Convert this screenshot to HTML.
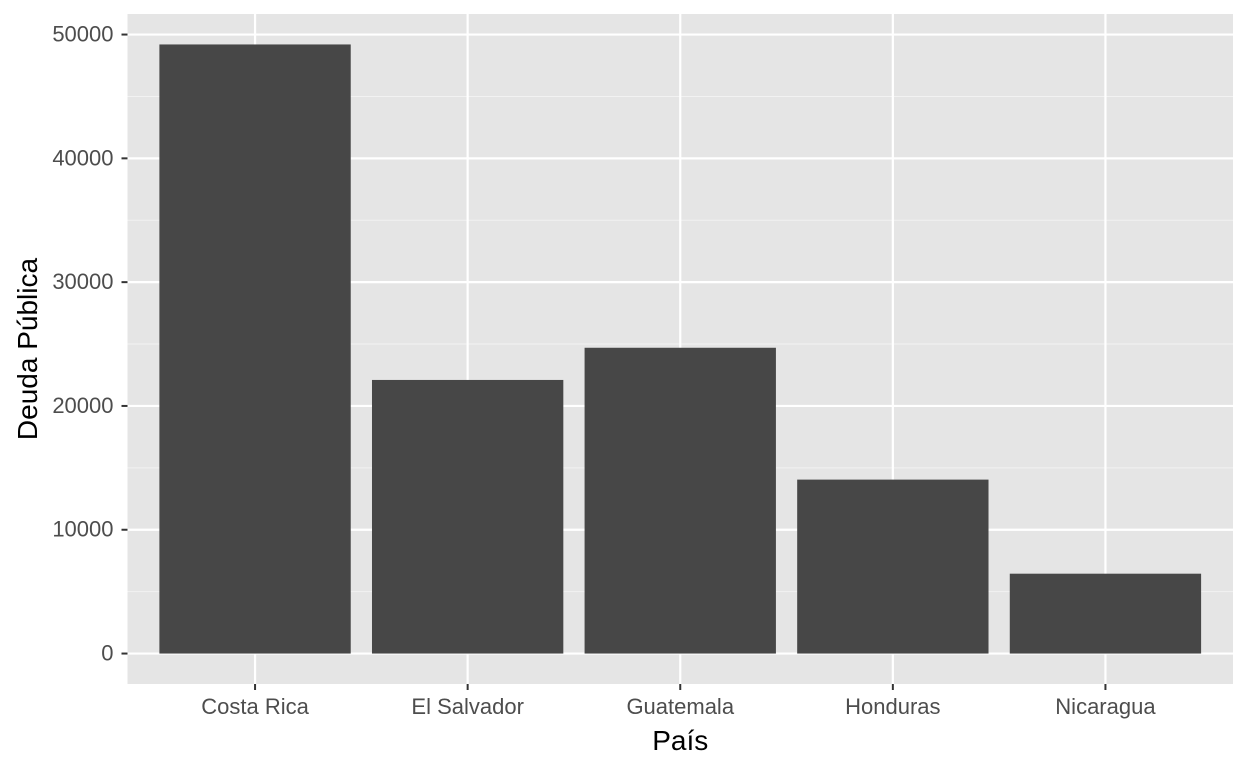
<!DOCTYPE html>
<html><head><meta charset="utf-8"><style>
body{margin:0;background:#fff;font-family:"Liberation Sans",Arial,sans-serif}
</style></head><body>
<svg id="chart" width="1248" height="768" xmlns="http://www.w3.org/2000/svg"></svg>
<script>
const categories=["Costa Rica","El Salvador","Guatemala","Honduras","Nicaragua"];
const values=[49200,22100,24700,14050,6450];
const yTicks=[0,10000,20000,30000,40000,50000];
const yMinor=[5000,15000,25000,35000,45000];
const svg=document.getElementById('chart');
const NS='http://www.w3.org/2000/svg';
const L=127.5,R=1233,T=14,B=684;
const yMax=Math.max(...values);
const yLo=-0.05*yMax,yHi=1.05*yMax;
const y=v=>B-(v-yLo)/(yHi-yLo)*(B-T);
const bw=(R-L)/(categories.length+0.2);
const x=i=>L+(i+0.6)*bw;
function mk(tag,attrs,parent){const e=document.createElementNS(NS,tag);for(const k in attrs)e.setAttribute(k,attrs[k]);(parent||svg).appendChild(e);return e;}
const panel=mk('rect',{x:L,y:T,width:R-L,height:B-T,fill:'#e5e5e5'});


yMinor.forEach(v=>{const l=mk('line',{x1:L,x2:R,y1:y(v),y2:y(v),stroke:'#f2f2f2','stroke-width':1});

});
yTicks.forEach(v=>{const l=mk('line',{x1:L,x2:R,y1:y(v),y2:y(v),stroke:'#fff','stroke-width':2.2});


const t=mk('line',{x1:L-6,x2:L,y1:y(v),y2:y(v),stroke:'#333','stroke-width':2});


const tx=mk('text',{x:L-14,y:y(v)+7,'text-anchor':'end','font-size':22,fill:'#4d4d4d'});tx.textContent=v;

});
categories.forEach((c,i)=>{const l=mk('line',{x1:x(i),x2:x(i),y1:T,y2:B,stroke:'#fff','stroke-width':2.2});

});
categories.forEach((c,i)=>{const w=bw*0.9;
const r=mk('rect',{x:x(i)-w/2,y:y(values[i]),width:w,height:y(0)-y(values[i]),fill:'#474747'});


const t=mk('line',{x1:x(i),x2:x(i),y1:B,y2:B+6,stroke:'#333','stroke-width':2});


const tx=mk('text',{x:x(i),y:B+30,'text-anchor':'middle','font-size':22,fill:'#4d4d4d'});tx.textContent=c;

});
const xt=mk('text',{x:(L+R)/2,y:750,'text-anchor':'middle','font-size':28,fill:'#000'});xt.textContent='País';


const yt=mk('text',{x:0,y:0,'text-anchor':'middle','font-size':28,fill:'#000',transform:`translate(37,${(T+B)/2}) rotate(-90)`});yt.textContent='Deuda Pública';


</script>
</body></html>
